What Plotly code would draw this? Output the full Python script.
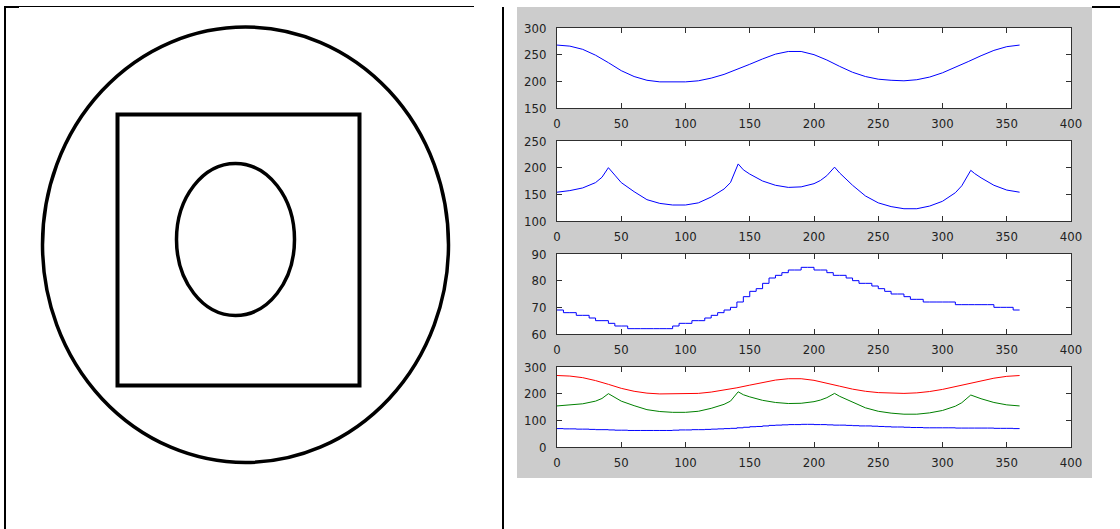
import plotly.graph_objects as go

W, H = 1120, 529

# ---------------- data ----------------
angle_a = [0, 10, 20, 30, 40, 50, 60, 70, 80, 90, 100, 110, 120, 130, 140, 150, 160, 170, 180,
           190, 200, 210, 220, 230, 240, 250, 260, 270, 280, 290, 300, 310, 320, 330, 340, 350, 360]
radius_a = [268, 266, 260, 249, 235, 220, 209, 202, 199, 199, 199, 201, 206, 213, 222, 232, 242, 251, 256,
            256, 250, 240, 228, 217, 209, 204, 202, 201, 203, 208, 216, 226, 237, 248, 258, 265, 268]

angle_b = [0, 10, 20, 30, 35, 40, 45, 50, 60, 70, 80, 90, 100, 110, 120, 130, 135, 141, 145, 150,
           160, 170, 180, 190, 200, 205, 210, 216, 220, 225, 230, 240, 250, 260, 270, 280, 290,
           300, 310, 315, 322, 325, 330, 340, 350, 360]
radius_b = [154, 157, 162, 172, 182, 200, 186, 172, 155, 140, 133, 130, 130, 134, 145, 160, 172, 207, 196, 188,
            175, 167, 163, 164, 170, 176, 185, 201, 190, 179, 167, 147, 134, 127, 123, 123, 128,
            137, 153, 166, 195, 189, 181, 167, 158, 154]

angle_c = list(range(0, 361, 5))
radius_c = [69, 68, 68, 67, 67, 66, 65, 65, 64, 63, 63, 62, 62, 62, 62, 62, 62, 62, 63, 64,
            64, 65, 65, 66, 67, 68, 69, 70, 72, 74, 76, 77, 79, 81, 82, 83, 84, 84, 85, 85,
            84, 84, 83, 82, 82, 81, 80, 79, 79, 78, 77, 76, 75, 75, 74, 73, 73, 72, 72, 72,
            72, 72, 71, 71, 71, 71, 71, 71, 70, 70, 70, 69, 69]

x_ticks = [0, 50, 100, 150, 200, 250, 300, 350, 400]
y_ticks_1 = [150, 200, 250, 300]
y_ticks_2 = [100, 150, 200, 250]
y_ticks_3 = [60, 70, 80, 90]
y_ticks_4 = [0, 100, 200, 300]


def px(x):
    return x / W


def py(y):
    return 1 - y / H


fig = go.Figure()

# subplot pixel boxes (left, right, top, bottom)
AX_L, AX_R = 557, 1071
boxes = [(28, 108), (141, 221), (254, 334), (367, 447)]
yranges = [[150, 300], [100, 250], [60, 90], [0, 300]]
yticks = [y_ticks_1, y_ticks_2, y_ticks_3, y_ticks_4]

BLUE, RED, GREEN = "#0000ff", "#ff0000", "#008000"

fig.add_trace(go.Scatter(x=angle_a, y=radius_a, mode="lines", line=dict(color=BLUE, width=1),
                         xaxis="x", yaxis="y", showlegend=False))
fig.add_trace(go.Scatter(x=angle_b, y=radius_b, mode="lines", line=dict(color=BLUE, width=1),
                         xaxis="x2", yaxis="y2", showlegend=False))
fig.add_trace(go.Scatter(x=angle_c, y=radius_c, mode="lines", line=dict(color=BLUE, width=1, shape="hv"),
                         xaxis="x3", yaxis="y3", showlegend=False))
fig.add_trace(go.Scatter(x=angle_a, y=radius_a, mode="lines", line=dict(color=RED, width=1),
                         xaxis="x4", yaxis="y4", showlegend=False))
fig.add_trace(go.Scatter(x=angle_b, y=radius_b, mode="lines", line=dict(color=GREEN, width=1),
                         xaxis="x4", yaxis="y4", showlegend=False))
fig.add_trace(go.Scatter(x=angle_c, y=radius_c, mode="lines", line=dict(color=BLUE, width=1, shape="hv"),
                         xaxis="x4", yaxis="y4", showlegend=False))

FONT = dict(family="Liberation Sans Narrow, DejaVu Sans Condensed, Arial Narrow, sans-serif",
            size=13, color="#222222")
axis_common = dict(showline=True, linecolor="#303030", linewidth=1, mirror="ticks",
                   ticks="inside", ticklen=5, tickwidth=1, tickcolor="#303030",
                   showgrid=False, zeroline=False, tickfont=FONT, automargin=False,
                   fixedrange=True)

layout = {}
for i, ((t, b), yr, yt) in enumerate(zip(boxes, yranges, yticks)):
    sfx = "" if i == 0 else str(i + 1)
    layout["xaxis" + sfx] = dict(domain=[px(AX_L), px(AX_R)], range=[0, 400], tickvals=x_ticks,
                                 anchor="y" + sfx, ticklabelstandoff=3, **axis_common)
    layout["yaxis" + sfx] = dict(domain=[py(b), py(t)], range=yr, tickvals=yt,
                                 anchor="x" + sfx, ticklabelstandoff=7, **axis_common)

shapes = []
# MATLAB figure gray panel
shapes.append(dict(type="rect", xref="paper", yref="paper", x0=px(517), x1=px(1092), y0=py(478), y1=py(7),
                   fillcolor="#cccccc", line=dict(width=0), layer="below"))
for t, b in boxes:
    shapes.append(dict(type="rect", xref="paper", yref="paper", x0=px(AX_L), x1=px(AX_R), y0=py(b), y1=py(t),
                       fillcolor="#ffffff", line=dict(width=0), layer="below"))

# table borders
def seg(x0, y0, x1, y1, w):
    return dict(type="line", xref="paper", yref="paper", x0=px(x0), y0=py(y0), x1=px(x1), y1=py(y1),
                line=dict(color="#000000", width=w))

shapes += [
    seg(5, 6, 5, 529, 2),
    seg(4, 6.5, 474, 6.5, 1),
    seg(4, 7, 19, 7, 2),
    seg(1092, 7, 1120, 7, 2),
    seg(503, 7, 503, 529, 2),
]

# left drawing: outer ellipse, square, inner ellipse
shapes.append(dict(type="circle", xref="paper", yref="paper", x0=px(42.5), x1=px(448.5), y0=py(462.5), y1=py(27),
                   line=dict(color="#000000", width=3.5)))
shapes.append(dict(type="rect", xref="paper", yref="paper", x0=px(117.5), x1=px(359.5), y0=py(385.5), y1=py(114.5),
                   line=dict(color="#000000", width=4)))
shapes.append(dict(type="circle", xref="paper", yref="paper", x0=px(176.5), x1=px(294.5), y0=py(315.5), y1=py(163.5),
                   line=dict(color="#000000", width=3.5)))

fig.update_layout(
    width=W, height=H, margin=dict(l=0, r=0, t=0, b=0),
    paper_bgcolor="#ffffff", plot_bgcolor="rgba(0,0,0,0)",
    template="none", showlegend=False, shapes=shapes, **layout)

fig.write_html("out.html", config={"displayModeBar": False})
